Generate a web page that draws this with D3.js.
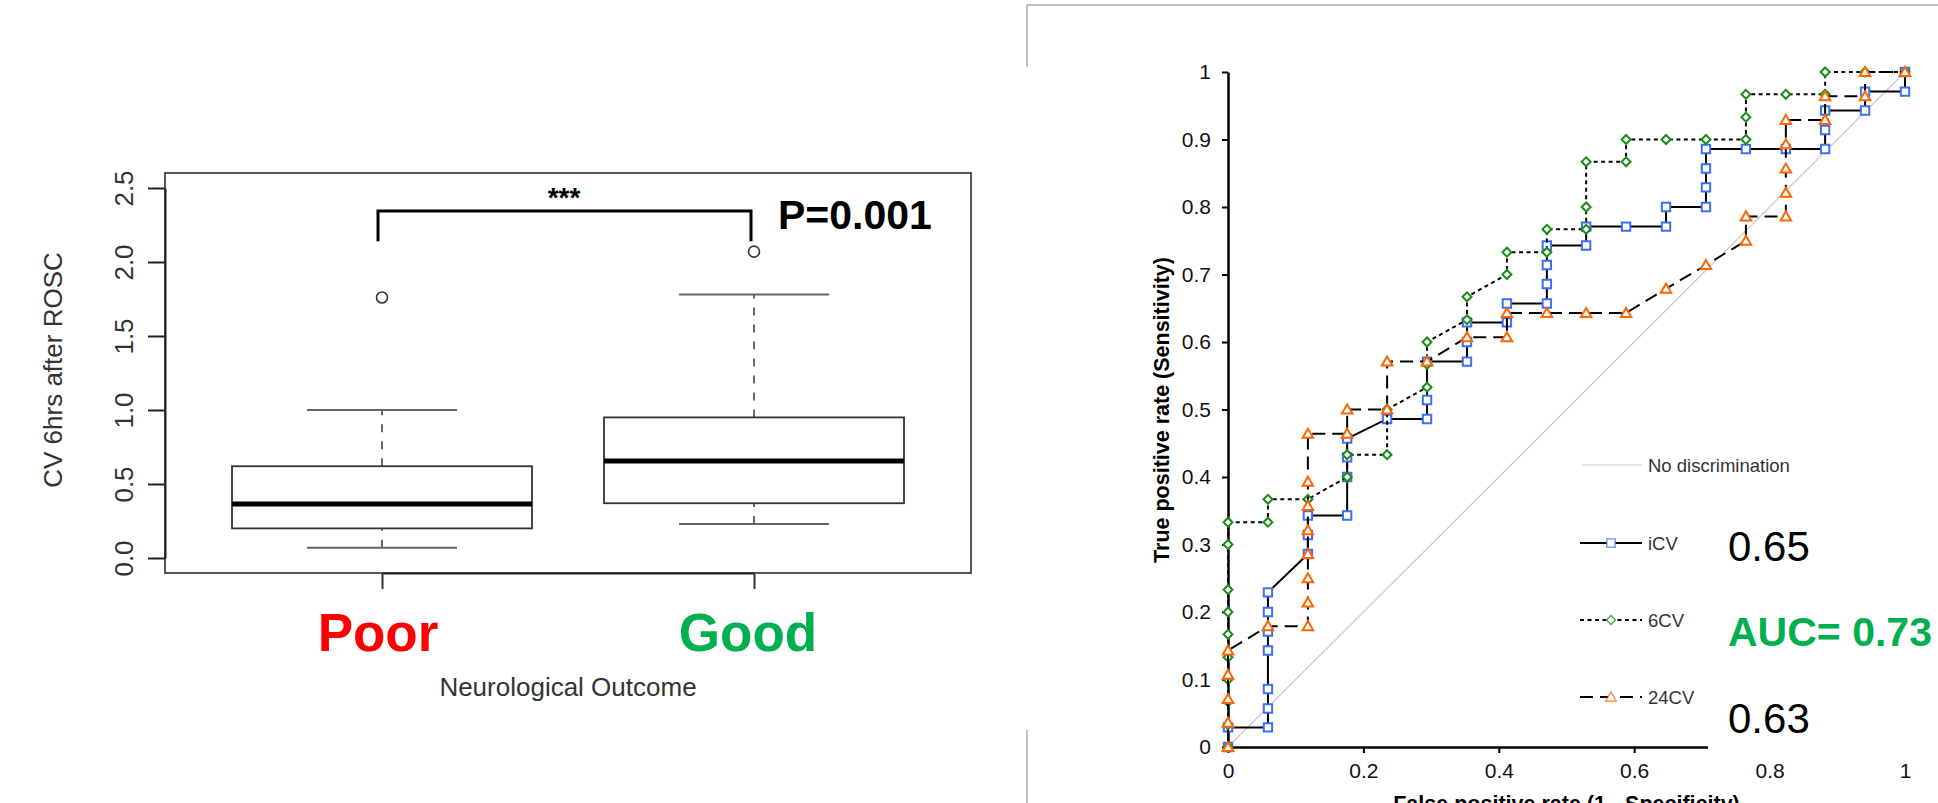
<!DOCTYPE html>
<html>
<head>
<meta charset="utf-8">
<script src="https://cdn.jsdelivr.net/npm/d3@7"></script>
<style>
  body { margin: 0; background: #fff; }
  svg { display: block; font-family: 'Liberation Sans', Arial, sans-serif; }
</style>
</head>
<body>
<svg id="chart" width="1938" height="803"></svg>
<script>
// ---- box plot data (CV 6hrs after ROSC) ----
const groups = ['Poor', 'Good'];
const whiskerLow = [0.07, 0.23];
const quartile1 = [0.2, 0.37];
const medians = [0.365, 0.655];
const quartile3 = [0.62, 0.95];
const whiskerHigh = [1.0, 1.78];
const outliers = [[1.76], [2.07]];
const boxTicks = [0, 0.5, 1, 1.5, 2, 2.5];

// ---- ROC data, [fpr, tpr] ----
const icvPoints = [
  [0, 0], [0, 0.029], [0.059, 0.029], [0.059, 0.057], [0.059, 0.086], [0.059, 0.143],
  [0.059, 0.171], [0.059, 0.2], [0.059, 0.229], [0.118, 0.286], [0.118, 0.314],
  [0.118, 0.343], [0.176, 0.343], [0.176, 0.4], [0.176, 0.429], [0.176, 0.457],
  [0.235, 0.486], [0.294, 0.486], [0.294, 0.514], [0.294, 0.571], [0.353, 0.571],
  [0.353, 0.6], [0.353, 0.629], [0.412, 0.629], [0.412, 0.657], [0.471, 0.657],
  [0.471, 0.686], [0.471, 0.714], [0.471, 0.743], [0.529, 0.743], [0.529, 0.771],
  [0.588, 0.771], [0.647, 0.771], [0.647, 0.8], [0.706, 0.8], [0.706, 0.829],
  [0.706, 0.857], [0.706, 0.886], [0.765, 0.886], [0.824, 0.886], [0.882, 0.886],
  [0.882, 0.914], [0.882, 0.943], [0.941, 0.943], [0.941, 0.971], [1, 0.971], [1, 1]
];
const cv6Points = [
  [0, 0], [0, 0.033], [0, 0.067], [0, 0.1], [0, 0.133], [0, 0.167], [0, 0.2],
  [0, 0.233], [0, 0.3], [0, 0.333], [0.059, 0.333], [0.059, 0.367], [0.118, 0.367],
  [0.176, 0.4], [0.176, 0.433], [0.235, 0.433], [0.235, 0.5], [0.294, 0.533],
  [0.294, 0.567], [0.294, 0.6], [0.353, 0.633], [0.353, 0.667], [0.412, 0.7],
  [0.412, 0.733], [0.471, 0.733], [0.471, 0.767], [0.529, 0.767], [0.529, 0.8],
  [0.529, 0.867], [0.588, 0.867], [0.588, 0.9], [0.647, 0.9], [0.706, 0.9],
  [0.765, 0.9], [0.765, 0.933], [0.765, 0.967], [0.824, 0.967], [0.882, 0.967],
  [0.882, 1], [0.941, 1], [1, 1]
];
const cv24Points = [
  [0, 0], [0, 0.036], [0, 0.071], [0, 0.107], [0, 0.143], [0.059, 0.179],
  [0.118, 0.179], [0.118, 0.214], [0.118, 0.25], [0.118, 0.286], [0.118, 0.321],
  [0.118, 0.357], [0.118, 0.393], [0.118, 0.464], [0.176, 0.464], [0.176, 0.5],
  [0.235, 0.5], [0.235, 0.571], [0.294, 0.571], [0.353, 0.607], [0.412, 0.607],
  [0.412, 0.643], [0.471, 0.643], [0.529, 0.643], [0.588, 0.643], [0.647, 0.679],
  [0.706, 0.714], [0.765, 0.75], [0.765, 0.786], [0.824, 0.786], [0.824, 0.821],
  [0.824, 0.857], [0.824, 0.893], [0.824, 0.929], [0.882, 0.929], [0.882, 0.964],
  [0.941, 0.964], [0.941, 1], [1, 1]
];
const seriesNames = ['iCV', '6CV', '24CV'];
const aucLabels = ['0.65', 'AUC= 0.73', '0.63'];
const rocTicks = [0, 0.1, 0.2, 0.3, 0.4, 0.5, 0.6, 0.7, 0.8, 0.9, 1];
const rocXTicks = [0, 0.2, 0.4, 0.6, 0.8, 1];

const svg = d3.select('#chart');

// ================= left: box plot =================
const bx = d3.scalePoint().domain(groups).range([382, 754]);
const by = d3.scaleLinear().domain([0, 2.5]).range([558, 188]);
const boxHalf = 150;
const capHalf = 75;
const left = svg.append('g').attr('class', 'boxplot');

left.append('rect')
  .attr('x', 165).attr('y', 173).attr('width', 806).attr('height', 400)
  .attr('fill', 'none').attr('stroke', '#444').attr('stroke-width', 1.8);

const yAxisBox = left.append('g')
  .attr('transform', 'translate(165,0)')
  .call(d3.axisLeft(by).tickValues(boxTicks).tickSize(17).tickSizeOuter(0).tickFormat(d3.format('.1f')));
yAxisBox.select('.domain').attr('stroke', '#222').attr('stroke-width', 2);
yAxisBox.selectAll('.tick line').attr('stroke', '#222').attr('stroke-width', 2);
yAxisBox.selectAll('.tick text')
  .attr('x', 0).attr('dy', 0)
  .attr('text-anchor', 'middle')
  .attr('transform', 'translate(-32,0) rotate(-90)')
  .attr('font-size', 26).attr('fill', '#333')
  .attr('font-family', "'Liberation Sans', Arial, sans-serif");

const xAxisBox = left.append('g')
  .attr('transform', 'translate(0,573)')
  .call(d3.axisBottom(bx).tickSize(16).tickSizeOuter(0).tickFormat(''));
xAxisBox.select('.domain').attr('stroke', '#222').attr('stroke-width', 2.2);
xAxisBox.selectAll('.tick line').attr('stroke', '#333').attr('stroke-width', 2);

const boxes = left.selectAll('.box').data(groups).join('g').attr('class', 'box');
boxes.append('line')
  .attr('x1', d => bx(d)).attr('x2', d => bx(d))
  .attr('y1', (d, i) => by(whiskerLow[i])).attr('y2', (d, i) => by(quartile1[i]))
  .attr('stroke', '#444').attr('stroke-width', 1.6).attr('stroke-dasharray', '8,9');
boxes.append('line')
  .attr('x1', d => bx(d)).attr('x2', d => bx(d))
  .attr('y1', (d, i) => by(quartile3[i])).attr('y2', (d, i) => by(whiskerHigh[i]))
  .attr('stroke', '#444').attr('stroke-width', 1.6).attr('stroke-dasharray', '8,9');
boxes.append('line')
  .attr('x1', d => bx(d) - capHalf).attr('x2', d => bx(d) + capHalf)
  .attr('y1', (d, i) => by(whiskerLow[i])).attr('y2', (d, i) => by(whiskerLow[i]))
  .attr('stroke', '#666').attr('stroke-width', 2);
boxes.append('line')
  .attr('x1', d => bx(d) - capHalf).attr('x2', d => bx(d) + capHalf)
  .attr('y1', (d, i) => by(whiskerHigh[i])).attr('y2', (d, i) => by(whiskerHigh[i]))
  .attr('stroke', '#666').attr('stroke-width', 2);
boxes.append('rect')
  .attr('x', d => bx(d) - boxHalf).attr('width', boxHalf * 2)
  .attr('y', (d, i) => by(quartile3[i]))
  .attr('height', (d, i) => by(quartile1[i]) - by(quartile3[i]))
  .attr('fill', 'none').attr('stroke', '#333').attr('stroke-width', 1.8);
boxes.append('line')
  .attr('x1', d => bx(d) - boxHalf).attr('x2', d => bx(d) + boxHalf)
  .attr('y1', (d, i) => by(medians[i])).attr('y2', (d, i) => by(medians[i]))
  .attr('stroke', '#000').attr('stroke-width', 5);
boxes.each(function (d, i) {
  d3.select(this).selectAll('circle').data(outliers[i]).join('circle')
    .attr('cx', bx(d)).attr('cy', v => by(v)).attr('r', 5.5)
    .attr('fill', 'none').attr('stroke', '#333').attr('stroke-width', 1.6);
});

// significance bracket
const bracketY = by(2.345);
const bracketEnd = by(2.14);
left.append('path')
  .attr('d', `M${bx('Poor') - 4},${bracketEnd}V${bracketY}H${bx('Good') - 3}V${bracketEnd}`)
  .attr('fill', 'none').attr('stroke', '#000').attr('stroke-width', 3);
left.append('text')
  .attr('x', (bx('Poor') + bx('Good')) / 2 - 4).attr('y', 207)
  .attr('text-anchor', 'middle').attr('font-size', 28).attr('font-weight', 'bold')
  .text('***');
left.append('text')
  .attr('x', 778).attr('y', 229)
  .attr('font-size', 41).attr('font-weight', 'bold')
  .text('P=0.001');

// category labels and titles
const groupColors = ['#ff0000', '#00b050'];
left.selectAll('.cat').data(groups).join('text')
  .attr('class', 'cat')
  .attr('x', (d, i) => bx(d) - (i === 0 ? 4 : 6)).attr('y', 651)
  .attr('text-anchor', 'middle').attr('font-size', 53).attr('font-weight', 'bold')
  .attr('fill', (d, i) => groupColors[i])
  .text(d => d);
left.append('text')
  .attr('x', 568).attr('y', 696)
  .attr('text-anchor', 'middle').attr('font-size', 26).attr('fill', '#333')
  .text('Neurological Outcome');
left.append('text')
  .attr('transform', 'translate(62,370) rotate(-90)')
  .attr('text-anchor', 'middle').attr('font-size', 26).attr('fill', '#333')
  .text('CV 6hrs after ROSC');

// ================= right: ROC curves =================
const right = svg.append('g').attr('class', 'roc');

// panel frame (partly hidden in the original slide)
right.append('path')
  .attr('d', 'M1027,67V5H1938')
  .attr('fill', 'none').attr('stroke', '#c0c0c0').attr('stroke-width', 2);
right.append('path')
  .attr('d', 'M1027,730V803')
  .attr('fill', 'none').attr('stroke', '#c0c0c0').attr('stroke-width', 2);

const rx = d3.scaleLinear().domain([0, 1]).range([1228, 1905]);
const ry = d3.scaleLinear().domain([0, 1]).range([747, 72]);

// no discrimination
right.append('line')
  .attr('x1', rx(0)).attr('y1', ry(0)).attr('x2', rx(1)).attr('y2', ry(1))
  .attr('stroke', '#c8c8c8').attr('stroke-width', 1.2);

const fmt = d => String(+d.toFixed(1));
const yAxisRoc = right.append('g')
  .attr('transform', `translate(${rx(0)},0)`)
  .call(d3.axisLeft(ry).tickValues(rocTicks).tickSize(6).tickSizeOuter(0).tickPadding(11).tickFormat(fmt));
const xAxisRoc = right.append('g')
  .attr('transform', `translate(0,${ry(0)})`)
  .call(d3.axisBottom(rx).tickValues(rocXTicks).tickSize(6).tickSizeOuter(0).tickPadding(10).tickFormat(fmt));
[yAxisRoc, xAxisRoc].forEach(a => {
  a.select('.domain').attr('stroke', '#000').attr('stroke-width', 2.5);
  a.selectAll('.tick line').attr('stroke', '#000').attr('stroke-width', 2);
  a.selectAll('.tick text').attr('font-size', 21).attr('fill', '#111')
    .attr('font-family', "'Liberation Sans', Arial, sans-serif");
});

const seriesData = [icvPoints, cv6Points, cv24Points];
const seriesDash = [null, '4,3.5', '13,7'];
const seriesColor = ['#3d6ff5', '#1a8c1a', '#ff6600'];
const seriesSymbol = [
  d3.symbol(d3.symbolSquare, 70),
  d3.symbol(d3.symbolSquare, 40),
  d3.symbol(d3.symbolTriangle, 48)
];
const seriesRotate = [0, 45, 0];

const line = d3.line().x(d => rx(d[0])).y(d => ry(d[1]));
seriesData.forEach((pts, s) => {
  const g = right.append('g').attr('class', 'series');
  g.append('path')
    .attr('d', line(pts))
    .attr('fill', 'none').attr('stroke', '#000').attr('stroke-width', 2)
    .attr('stroke-dasharray', seriesDash[s]);
  g.selectAll('path.mark').data(pts).join('path')
    .attr('class', 'mark')
    .attr('d', seriesSymbol[s])
    .attr('transform', d => `translate(${rx(d[0])},${ry(d[1]) + (s === 2 ? 1 : 0)}) rotate(${seriesRotate[s]})`)
    .attr('fill', '#fff').attr('stroke', seriesColor[s]).attr('stroke-width', 2);
});

// white text box over the right end of the x axis
right.append('rect')
  .attr('x', 1708).attr('y', 505).attr('width', 230).attr('height', 252)
  .attr('fill', '#fff');

// legend
const legend = right.append('g').attr('class', 'legend');
legend.append('line')
  .attr('x1', 1582).attr('x2', 1642).attr('y1', 465).attr('y2', 465)
  .attr('stroke', '#c8c8c8').attr('stroke-width', 1.2);
legend.append('text')
  .attr('x', 1648).attr('y', 472).attr('font-size', 18.5).attr('fill', '#333')
  .text('No discrimination');
const legendY = [543, 620, 697];
seriesNames.forEach((name, s) => {
  legend.append('line')
    .attr('x1', 1580).attr('x2', 1642).attr('y1', legendY[s]).attr('y2', legendY[s])
    .attr('stroke', '#000').attr('stroke-width', 2)
    .attr('stroke-dasharray', seriesDash[s]);
  legend.append('path')
    .attr('d', seriesSymbol[s])
    .attr('transform', `translate(1611,${legendY[s] + (s === 2 ? 1 : 0)}) rotate(${seriesRotate[s]})`)
    .attr('fill', '#fff').attr('stroke', seriesColor[s]).attr('stroke-width', 1.3)
    .attr('stroke-opacity', 0.8);
  legend.append('text')
    .attr('x', 1648).attr('y', legendY[s] + 7).attr('font-size', 18.5).attr('fill', '#333')
    .text(name);
});

// AUC values
const aucY = [561, 646, 733];
right.selectAll('.auc').data(aucLabels).join('text')
  .attr('class', 'auc')
  .attr('x', 1728).attr('y', (d, i) => aucY[i])
  .attr('font-size', (d, i) => i === 1 ? 41 : 42)
  .attr('font-weight', (d, i) => i === 1 ? 'bold' : 'normal')
  .attr('fill', (d, i) => i === 1 ? '#00b050' : '#000')
  .text(d => d);

// axis titles
right.append('text')
  .attr('transform', 'translate(1169,410) rotate(-90)')
  .attr('text-anchor', 'middle').attr('font-size', 21.5).attr('font-weight', 'bold')
  .text('True positive rate (Sensitivity)');
right.append('text')
  .attr('x', (rx(0) + rx(1)) / 2).attr('y', 811)
  .attr('text-anchor', 'middle').attr('font-size', 21.5).attr('font-weight', 'bold')
  .text('False positive rate (1 - Specificity)');
</script>
</body>
</html>
